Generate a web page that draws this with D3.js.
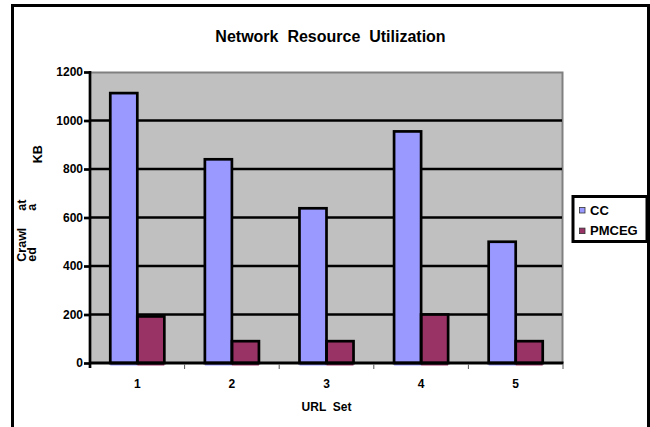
<!DOCTYPE html>
<html>
<head>
<meta charset="utf-8">
<script src="https://cdn.jsdelivr.net/npm/d3@7"></script>
<style>
  html, body { margin: 0; padding: 0; background: #fff; }
  svg { display: block; font-family: "Liberation Sans", Arial, sans-serif; font-weight: bold; }
  text { white-space: pre; }
</style>
</head>
<body>
<svg id="chart" width="650" height="427"></svg>
<script>
// Crawled data per URL set, in KB
const urlSets = ["1", "2", "3", "4", "5"];
const seriesNames = ["CC", "PMCEG"];
const ccValues = [1113, 840, 638, 955, 500];
const pmcegValues = [192, 90, 90, 200, 90];
const yTicks = [0, 200, 400, 600, 800, 1000, 1200];
const seriesColors = ["#9999FF", "#993366"];

const svg = d3.select("#chart");
const plot = { left: 90, right: 563, top: 72, bottom: 363 };

const x0 = d3.scaleBand().domain(urlSets).range([plot.left, plot.right]).paddingInner(0).paddingOuter(0);
const x1 = d3.scaleBand().domain(seriesNames).range([0, x0.bandwidth()]).paddingInner(0).paddingOuter(0.75);
const y = d3.scaleLinear().domain([0, 1200]).range([plot.bottom, plot.top]);
const color = d3.scaleOrdinal().domain(seriesNames).range(seriesColors);

const rows = urlSets.map((s, i) => ({ set: s, values: [
  { key: "CC", value: ccValues[i] },
  { key: "PMCEG", value: pmcegValues[i] }
]}));

// outer frame
svg.append("rect")
  .attr("x", 12.5).attr("y", 5.5).attr("width", 636).attr("height", 440)
  .attr("fill", "none").attr("stroke", "#000").attr("stroke-width", 3);

// title
svg.append("text")
  .attr("x", 330.5).attr("y", 41.5)
  .attr("text-anchor", "middle")
  .attr("font-size", 16)
  .text("Network  Resource  Utilization");

// plot background
svg.append("rect")
  .attr("x", plot.left).attr("y", plot.top)
  .attr("width", plot.right - plot.left).attr("height", plot.bottom - plot.top)
  .attr("fill", "#C0C0C0");

// grey border on top and right of plot area
svg.append("path")
  .attr("d", `M${plot.left},${plot.top + 0.5}H${plot.right - 0.5}V${plot.bottom}`)
  .attr("fill", "none").attr("stroke", "#808080").attr("stroke-width", 2);

// horizontal gridlines
svg.append("g")
  .selectAll("line")
  .data(yTicks.filter(t => t > 0 && t < 1200))
  .join("line")
  .attr("x1", plot.left).attr("x2", plot.right - 1)
  .attr("y1", d => y(d)).attr("y2", d => y(d))
  .attr("stroke", "#000").attr("stroke-width", 2.7);

// bars
const groups = svg.append("g")
  .selectAll("g")
  .data(rows)
  .join("g")
  .attr("transform", d => `translate(${x0(d.set)},0)`);

groups.selectAll("rect.fill")
  .data(d => d.values)
  .join("rect")
  .attr("class", "fill")
  .attr("x", d => x1(d.key))
  .attr("y", d => y(d.value))
  .attr("width", x1.bandwidth())
  .attr("height", d => y(0) - y(d.value) + 2.5)
  .attr("fill", d => color(d.key));

groups.selectAll("rect.edge")
  .data(d => d.values)
  .join("rect")
  .attr("class", "edge")
  .attr("x", d => x1(d.key))
  .attr("y", d => y(d.value))
  .attr("width", x1.bandwidth())
  .attr("height", d => y(0) - y(d.value))
  .attr("fill", "none")
  .attr("stroke", "#000")
  .attr("stroke-width", 2.7);

// y axis
const yAxis = d3.axisLeft(y).tickValues(yTicks).tickSize(6).tickPadding(1).tickFormat(d3.format("d"));
const gy = svg.append("g").attr("transform", `translate(${plot.left},0)`).call(yAxis);
gy.select(".domain").remove();
gy.selectAll(".tick line").attr("stroke", "#000").attr("stroke-width", 2.7);
gy.selectAll(".tick text").attr("font-size", 12).attr("font-family", "Liberation Sans, Arial, sans-serif").attr("font-weight", "bold").attr("fill", "#000");
svg.append("line")
  .attr("x1", plot.left).attr("x2", plot.left)
  .attr("y1", plot.top - 1).attr("y2", plot.bottom + 5)
  .attr("stroke", "#000").attr("stroke-width", 2.7);

// x axis
const xAxis = d3.axisBottom(x0).tickSize(0).tickPadding(16);
const gx = svg.append("g").attr("transform", `translate(0,${plot.bottom})`).call(xAxis);
gx.select(".domain").remove();
gx.selectAll(".tick text").attr("font-size", 12).attr("font-family", "Liberation Sans, Arial, sans-serif").attr("font-weight", "bold").attr("fill", "#000");
svg.append("line")
  .attr("x1", plot.left).attr("x2", plot.right + 0.5)
  .attr("y1", plot.bottom).attr("y2", plot.bottom)
  .attr("stroke", "#000").attr("stroke-width", 3);
// category separators below the axis
svg.append("g")
  .selectAll("line")
  .data(urlSets.slice(1).map(s => x0(s)).concat([plot.right]))
  .join("line")
  .attr("x1", d => d).attr("x2", d => d)
  .attr("y1", plot.bottom + 1.5).attr("y2", plot.bottom + 6)
  .attr("stroke", "#555").attr("stroke-width", 1);

// axis titles
svg.append("text")
  .attr("x", (plot.left + plot.right) / 2).attr("y", 411)
  .attr("text-anchor", "middle").attr("font-size", 12)
  .text("URL  Set");

const yTitleParts = [
  { t: "Crawl", bx: 26, by: 261.7 },
  { t: "ed", bx: 35.5, by: 261.7 },
  { t: "at", bx: 26, by: 210.7 },
  { t: "a", bx: 35.5, by: 210.7 },
  { t: "KB", bx: 41.5, by: 163.3 }
];
svg.append("g")
  .selectAll("text")
  .data(yTitleParts)
  .join("text")
  .attr("transform", d => `translate(${d.bx},${d.by}) rotate(-90)`)
  .attr("font-size", 12.5)
  .text(d => d.t);

// legend
const legend = svg.append("g");
legend.append("rect")
  .attr("x", 573).attr("y", 196.5).attr("width", 74).attr("height", 45)
  .attr("fill", "#fff").attr("stroke", "#000").attr("stroke-width", 3);
const items = legend.selectAll("g.item")
  .data(seriesNames)
  .join("g")
  .attr("class", "item")
  .attr("transform", (d, i) => `translate(0,${i * 20.6})`);
items.append("rect")
  .attr("x", 579.5).attr("y", 207.5).attr("width", 5.5).attr("height", 5.5)
  .attr("fill", d => color(d)).attr("stroke", "#333").attr("stroke-width", 0.8);
items.append("text")
  .attr("x", 590).attr("y", 214.5)
  .attr("font-size", 13)
  .text(d => d);
</script>
</body>
</html>
